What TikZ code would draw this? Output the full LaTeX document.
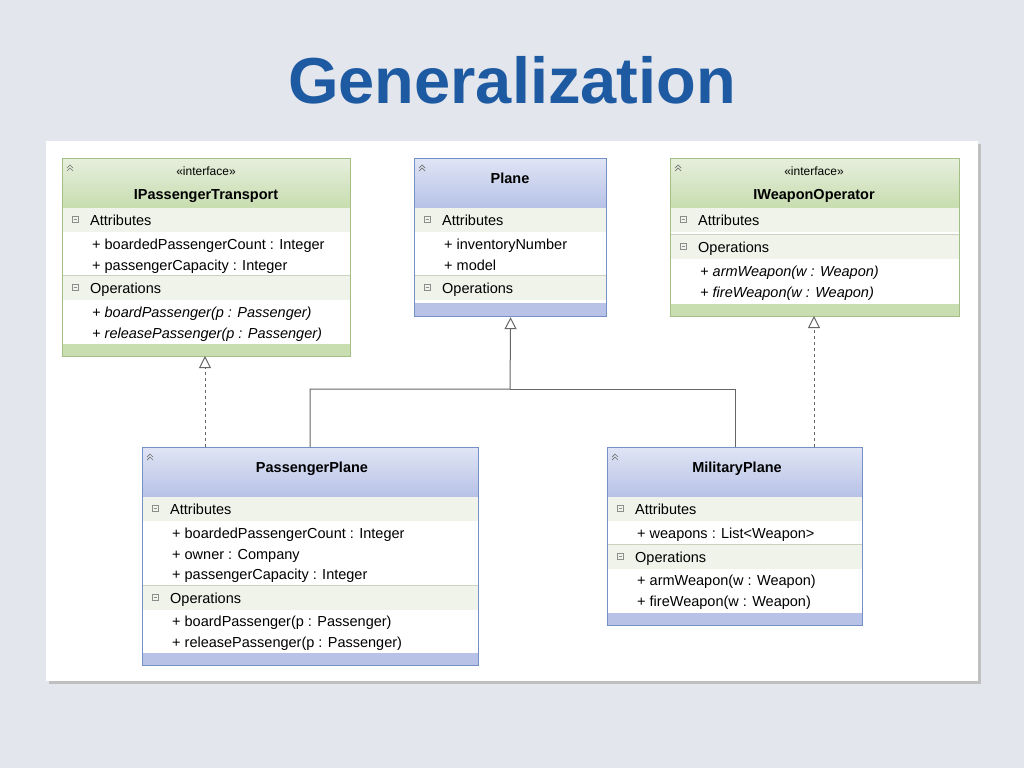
\documentclass[tikz,border=0pt]{standalone}
\usepackage{fontspec}
\setmainfont{Liberation Sans}
\usetikzlibrary{arrows.meta}
\definecolor{bgc}{HTML}{E3E7ED}
\definecolor{titc}{HTML}{1E5AA2}
\definecolor{gedge}{HTML}{A3BF86}
\definecolor{bedge}{HTML}{7391C4}
\definecolor{gtop}{HTML}{E6EFDD}
\definecolor{gbot}{HTML}{C8DDB0}
\definecolor{btop}{HTML}{E0E5F5}
\definecolor{bbot}{HTML}{B7C2E6}
\definecolor{rowc}{HTML}{EFF3EA}
\definecolor{sepc}{HTML}{C9D3C0}
\tikzset{
 txt/.style={anchor=base west,inner sep=0pt,yshift=-5pt,font=\fontsize{14.5}{16}\selectfont},
 itx/.style={txt,font=\itshape\fontsize{14.5}{16}\selectfont},
 hd/.style={inner sep=0pt,anchor=base,yshift=-5pt,font=\bfseries\fontsize{14.5}{16}\selectfont},
 st/.style={inner sep=0pt,anchor=base,yshift=-4pt,font=\fontsize{12}{14}\selectfont},
 cls/.style={draw=#1,line width=1.2pt,anchor=north west,inner sep=0pt},
 gen/.style={-{Triangle[open,length=12pt,width=12pt]},line width=1pt,draw=black!60},
 link/.style={line width=1pt,draw=black!60},
}
\newcommand\secrow[5]{%
 \fill[rowc] (#1,#2) rectangle (#3,#2+24);
 \draw[black!45,line width=0.6pt] (#1+10,#2+8) rectangle (#1+16,#2+14);
 \draw[black!45,line width=0.6pt] (#1+11.5,#2+11)--(#1+14.5,#2+11);
 \node[txt] (#5) at (#1+28,#2+12) {#4};}
\newcommand\chev[2]{%
 \draw[black!55,line width=0.7pt] (#1+5,#2+10)--(#1+8,#2+7)--(#1+11,#2+10) (#1+5,#2+13)--(#1+8,#2+10)--(#1+11,#2+13);}
\begin{document}
\begin{tikzpicture}[x=1pt,y=-1pt]
\fill[bgc] (0,0) rectangle (1024,768);
\useasboundingbox (0,0) rectangle (1024,768);
\node[font=\bfseries\fontsize{65}{66}\selectfont,text=titc] (title) at (512,80) {Generalization};
\fill[black!25] (49,144) rectangle (981,684);
\fill[white] (46,141) rectangle (978,681);

% IPassengerTransport
\fill[top color=gtop,bottom color=gbot] (62,158) rectangle (350,207);
\fill[gbot] (62,344) rectangle (350,356);
\secrow{62}{208}{350}{Attributes}{ia}
\node[txt] (ia1) at (92,244) {+ boardedPassengerCount : Integer};
\node[txt] (ia2) at (92,265) {+ passengerCapacity : Integer};
\draw[sepc] (62,275)--(350,275);
\secrow{62}{276}{350}{Operations}{io}
\node[itx] (io1) at (92,312) {+ boardPassenger(p : Passenger)};
\node[itx] (io2) at (92,333) {+ releasePassenger(p : Passenger)};
\node[st] (is) at (206,171) {«interface»};
\node[hd] (ih) at (206,194) {IPassengerTransport};
\chev{62}{158}
\node[cls=gedge,minimum width=288pt,minimum height=198pt] (ipt) at (62,158) {};

% Plane
\fill[top color=btop,bottom color=bbot] (414,158) rectangle (606,207);
\fill[bbot] (414,303) rectangle (606,316);
\secrow{414}{208}{606}{Attributes}{pa}
\node[txt] (pa1) at (444,244) {+ inventoryNumber};
\node[txt] (pa2) at (444,265) {+ model};
\draw[sepc] (414,275)--(606,275);
\secrow{414}{276}{606}{Operations}{po}
\node[hd] (ph) at (510,178) {Plane};
\chev{414}{158}
\node[cls=bedge,minimum width=192pt,minimum height=158pt] (plane) at (414,158) {};

% IWeaponOperator
\fill[top color=gtop,bottom color=gbot] (670,158) rectangle (959,207);
\fill[gbot] (670,304) rectangle (959,316);
\secrow{670}{208}{959}{Attributes}{wa}
\draw[sepc] (670,234)--(959,234);
\secrow{670}{235}{959}{Operations}{wo}
\node[itx] (wo1) at (700,271) {+ armWeapon(w : Weapon)};
\node[itx] (wo2) at (700,292) {+ fireWeapon(w : Weapon)};
\node[st] (ws) at (814,171) {«interface»};
\node[hd] (wh) at (814,194) {IWeaponOperator};
\chev{670}{158}
\node[cls=gedge,minimum width=289pt,minimum height=158pt] (iwo) at (670,158) {};

% PassengerPlane
\fill[top color=btop,bottom color=bbot] (142,447) rectangle (478,496);
\fill[bbot] (142,653) rectangle (478,665);
\secrow{142}{497}{478}{Attributes}{qa}
\node[txt] (qa1) at (172,533) {+ boardedPassengerCount : Integer};
\node[txt] (qa2) at (172,554) {+ owner : Company};
\node[txt] (qa3) at (172,574) {+ passengerCapacity : Integer};
\draw[sepc] (142,585)--(478,585);
\secrow{142}{586}{478}{Operations}{qo}
\node[txt] (qo1) at (172,621) {+ boardPassenger(p : Passenger)};
\node[txt] (qo2) at (172,642) {+ releasePassenger(p : Passenger)};
\node[hd] (qh) at (312,467) {PassengerPlane};
\chev{142}{447}
\node[cls=bedge,minimum width=336pt,minimum height=218pt] (pp) at (142,447) {};

% MilitaryPlane
\fill[top color=btop,bottom color=bbot] (607,447) rectangle (862,496);
\fill[bbot] (607,613) rectangle (862,625);
\secrow{607}{497}{862}{Attributes}{ma}
\node[txt] (ma1) at (637,533) {+ weapons : List<Weapon>};
\draw[sepc] (607,544)--(862,544);
\secrow{607}{545}{862}{Operations}{mo}
\node[txt] (mo1) at (637,580) {+ armWeapon(w : Weapon)};
\node[txt] (mo2) at (637,601) {+ fireWeapon(w : Weapon)};
\node[hd] (mh) at (737,467) {MilitaryPlane};
\chev{607}{447}
\node[cls=bedge,minimum width=255pt,minimum height=178pt] (mp) at (607,447) {};

% connectors
\coordinate (j) at (510,389);
\draw[gen] (pp.north west)++(168,0) |- (j) -- (plane.south);
\draw[link] (mp.north west)++(128,0) |- (j);
\draw[gen,dashed] (pp.north west)++(63,0) -- ++(0,-91);
\draw[gen,dashed] (mp.north west)++(207,0) -- ++(0,-131);
\end{tikzpicture}
\end{document}
